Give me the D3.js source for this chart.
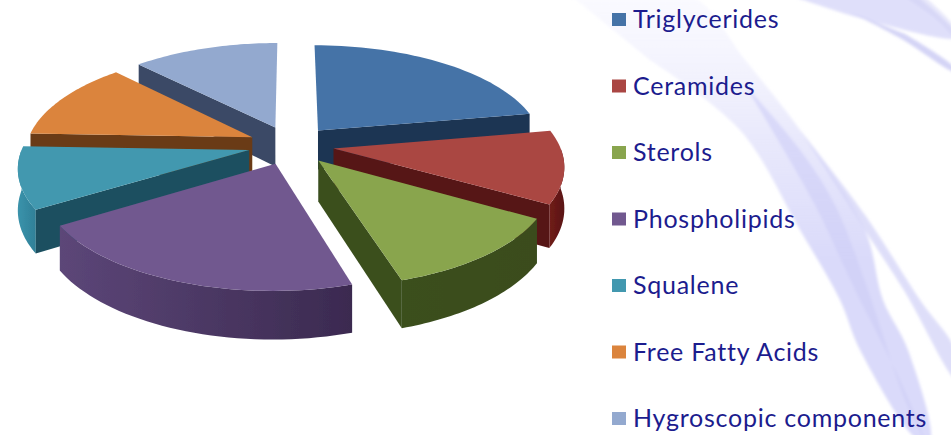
<!DOCTYPE html>
<html><head><meta charset="utf-8">
<script src="https://cdnjs.cloudflare.com/ajax/libs/d3/7.8.5/d3.min.js"></script>
<style>html,body{margin:0;padding:0;background:#fff}svg{display:block}</style>
</head><body><svg id="c" width="951" height="435"></svg>
<script>
const categories=["Triglycerides","Ceramides","Sterols","Phospholipids","Squalene","Free Fatty Acids","Hygroscopic components"];
const values=[22.2,11.2,11.9,20.8,9.5,12.2,12.2];
const topColors=["#4573a7","#aa4643","#89a54e","#71588f","#4298af","#db843d","#93a9cf"];
const wallColors=["#1c3553","#561615","#3b4f1f","#5c4678","#1b5060","#6a3a12","#3b4a66"];
const arcColors=["#274a74","#701c1a","#3b4f1f","#5c4678","#3b93ab","#8a4e1c","#6f86ad"];
const arcEndColors=["#274a74","#5a1514","#3a4c1e","#3b2a50","#2f8098","#8a4e1c","#6f86ad"];
const paintOrder=[0,6,5,1,4,2,3];

const W=951,H=435,cx=291,cy=145,Rx=226,Ry=102,q=0.15,explode=0.19,depth=40;
const svg=d3.select("#c");
const defs=svg.append("defs");
const soft=defs.append("filter").attr("id","soft").attr("x","-20%").attr("y","-20%").attr("width","140%").attr("height","140%");
soft.append("feGaussianBlur").attr("stdDeviation",1.6);
const fine=defs.append("filter").attr("id","fine").attr("x","-5%").attr("y","-5%").attr("width","110%").attr("height","110%");
fine.append("feGaussianBlur").attr("stdDeviation",0.5);
const fade=defs.append("linearGradient").attr("id","fade").attr("gradientUnits","userSpaceOnUse").attr("x1",0).attr("x2",0).attr("y1",0).attr("y2",260);
fade.append("stop").attr("offset",0).attr("stop-color","#e6e6fc").attr("stop-opacity",.2);
fade.append("stop").attr("offset",.5).attr("stop-color","#dcdcfa").attr("stop-opacity",.6);
fade.append("stop").attr("offset",1).attr("stop-color","#d8d8f9").attr("stop-opacity",.95);

// background ribbons
const curve=d3.line().curve(d3.curveCatmullRom);
const bg=svg.append("g").attr("filter","url(#soft)");
const ribbons=[
 {o:1,c:"url(#fade)",p:[[570,-5],[690,-5],[745,60],[800,130],[865,230],[883,300],[908,350],[930,440],[918,440],[860,350],[840,300],[800,230],[740,130],[650,60]]},
 {o:.8,c:"#d6d6f8",p:[[800,130],[865,215],[920,300],[955,350],[955,378],[905,292],[868,235]]},
 {o:.6,c:"#cdcdf6",p:[[745,85],[800,150],[835,205],[868,290],[905,400],[925,440],[900,380],[855,290],[815,205],[775,135]]},
 {o:.9,c:"#dcdcfa",p:[[795,-3],[860,18],[955,38],[955,32],[918,-3]]},
 {o:.9,c:"#cfcff5",p:[[850,12],[900,38],[955,72],[955,68],[905,34]]},
 {o:.5,c:"#cfcff5",p:[[905,-3],[935,18],[955,36],[955,28],[925,-3]]}
];
bg.selectAll("path").data(ribbons).join("path")
  .attr("d",r=>curve(r.p)+"Z").attr("fill",r=>r.c).attr("fill-opacity",r=>r.o);

// pie geometry through d3.pie and a perspective plane projection
const pie=d3.pie().sort(null).value(d=>d);
const arcs=pie(values);
function project(X,Y,drop){
  const p=1/(1-q*Y);
  return [cx+X*Rx*p, cy+Y*Ry*p+drop*depth*p];
}
const line=d3.line();
const g=svg.append("g").attr("filter","url(#fine)");
paintOrder.forEach(i=>{
  const a=arcs[i],mid=(a.startAngle+a.endAngle)/2;
  const ox=Math.sin(mid)*explode,oy=-Math.cos(mid)*explode;
  const pt=(t,r,drop)=>project(ox+r*Math.sin(t),oy-r*Math.cos(t),drop);
  const steps=d3.range(0,41).map(k=>a.startAngle+(a.endAngle-a.startAngle)*k/40);
  const lo=Math.max(a.startAngle,Math.PI/2),hi=Math.min(a.endAngle,Math.PI*1.5);
  const frontSteps=hi>lo?d3.range(0,41).map(k=>lo+(hi-lo)*k/40):[];
  const rim=(ts,drop)=>ts.map(t=>pt(t,1,drop));
  const xs=rim(steps,0).map(d=>d[0]);
  const id="w"+i;
  const gr=defs.append("linearGradient").attr("id",id).attr("gradientUnits","userSpaceOnUse")
    .attr("x1",d3.min(xs)).attr("x2",d3.max(xs)).attr("y1",0).attr("y2",0);
  gr.append("stop").attr("offset",0).attr("stop-color",arcColors[i]);
  gr.append("stop").attr("offset",1).attr("stop-color",arcEndColors[i]);
  const s=g.append("g");
  const cut=t=>[pt(t,0,0),pt(t,1,0),pt(t,1,1),pt(t,0,1)];
  if(frontSteps.length) s.append("path").attr("d",line(rim(frontSteps,0).concat(rim(frontSteps,1).reverse()))+"Z").attr("fill",`url(#${id})`);
  if(Math.sin(a.startAngle)<-0.01) s.append("path").attr("d",line(cut(a.startAngle))+"Z").attr("fill",wallColors[i]);
  if(Math.sin(a.endAngle)>0.01) s.append("path").attr("d",line(cut(a.endAngle))+"Z").attr("fill",wallColors[i]);
  s.append("path").attr("d",line([pt(0,0,0)].concat(rim(steps,0)))+"Z").attr("fill",topColors[i]);
});

// legend
const y=d3.scalePoint().domain(categories).range([19.5,418.5]);
const lg=svg.append("g").selectAll("g").data(categories).join("g").attr("transform",d=>`translate(612,${y(d)})`);
lg.append("rect").attr("x",0).attr("y",-6.5).attr("width",14).attr("height",13).attr("fill",(d,i)=>topColors[i]);
lg.append("text").attr("x",21).attr("y",8.7).text(d=>d)
  .attr("font-family","Lato, sans-serif").attr("font-size",25).attr("letter-spacing",0.75).attr("fill","#1c1c8e");
</script></body></html>
